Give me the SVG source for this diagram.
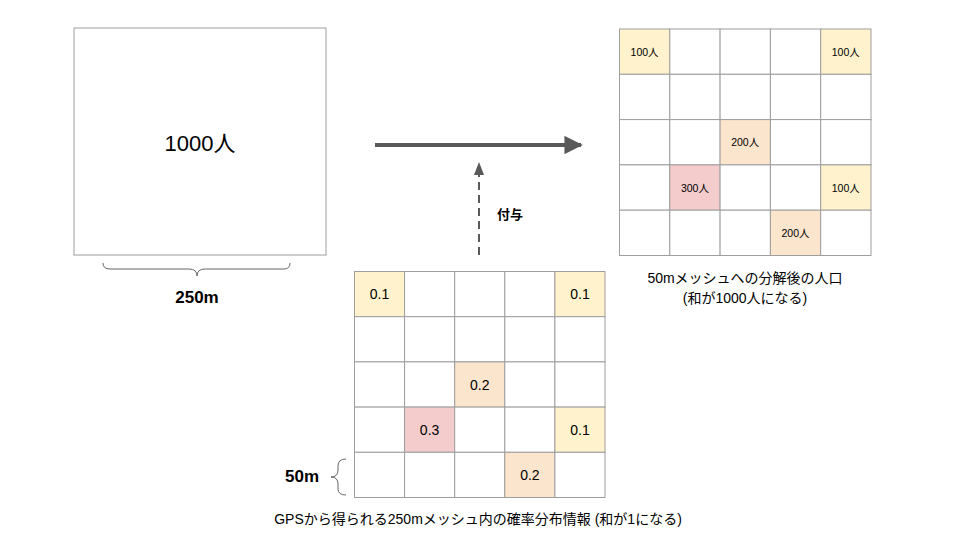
<svg xmlns="http://www.w3.org/2000/svg" width="960" height="540" viewBox="0 0 960 540">
<defs>
<style>
text{font-family:"Liberation Sans","Noto Sans CJK JP",sans-serif;fill:#000;}
.cell{stroke:#9e9e9e;stroke-width:1;fill:#ffffff;}
.y{fill:#fff2cc;}
.o{fill:#fce5cd;}
.r{fill:#f4cccc;}
.lbl{font-size:10.5px;text-anchor:middle;dominant-baseline:central;}
.lbl2{font-size:14px;text-anchor:middle;dominant-baseline:central;}
.brace{fill:none;stroke:#666;stroke-width:1;}
</style>
<marker id="ah" viewBox="0 0 10 10" refX="9" refY="5" markerWidth="6" markerHeight="4.6" markerUnits="strokeWidth" orient="auto">
<path d="M0,0 L10,5 L0,10 z" fill="#595959"/>
</marker>
</defs>
<rect width="960" height="540" fill="#ffffff"/>

<g id="big-mesh">
<rect x="74" y="28" width="252" height="227" fill="#ffffff" stroke="#9e9e9e" stroke-width="1"/>
<text x="200" y="143" font-size="22" text-anchor="middle" dominant-baseline="central">1000人</text>
</g>

<g id="brace-250">
<path class="brace" d="M103,263 Q103,269 110,269 L189,269 Q197,269 197,276 Q197,269 205,269 L284,269 Q290,269 290,263"/>
<text x="197" y="303" font-size="17" font-weight="bold" text-anchor="middle">250m</text>
</g>

<g id="connectors">
<line x1="375" y1="145" x2="581" y2="145" stroke="#595959" stroke-width="4" marker-end="url(#ah)"/>
<line x1="479" y1="255" x2="479" y2="174" stroke="#595959" stroke-width="2" stroke-dasharray="8,5"/>
<path d="M474,175 L479,162 L484,175 z" fill="#595959"/>
<text x="497" y="214" font-size="13" font-weight="bold" dominant-baseline="central">付与</text>
</g>

<g id="pop-grid">
<rect class="cell y" x="619.5" y="29" width="50.3" height="45.3"/>
<rect class="cell" x="669.8" y="29" width="50.3" height="45.3"/>
<rect class="cell" x="720.1" y="29" width="50.3" height="45.3"/>
<rect class="cell" x="770.4" y="29" width="50.3" height="45.3"/>
<rect class="cell y" x="820.7" y="29" width="50.3" height="45.3"/>
<rect class="cell" x="619.5" y="74.3" width="50.3" height="45.3"/>
<rect class="cell" x="669.8" y="74.3" width="50.3" height="45.3"/>
<rect class="cell" x="720.1" y="74.3" width="50.3" height="45.3"/>
<rect class="cell" x="770.4" y="74.3" width="50.3" height="45.3"/>
<rect class="cell" x="820.7" y="74.3" width="50.3" height="45.3"/>
<rect class="cell" x="619.5" y="119.6" width="50.3" height="45.3"/>
<rect class="cell" x="669.8" y="119.6" width="50.3" height="45.3"/>
<rect class="cell o" x="720.1" y="119.6" width="50.3" height="45.3"/>
<rect class="cell" x="770.4" y="119.6" width="50.3" height="45.3"/>
<rect class="cell" x="820.7" y="119.6" width="50.3" height="45.3"/>
<rect class="cell" x="619.5" y="164.9" width="50.3" height="45.3"/>
<rect class="cell r" x="669.8" y="164.9" width="50.3" height="45.3"/>
<rect class="cell" x="720.1" y="164.9" width="50.3" height="45.3"/>
<rect class="cell" x="770.4" y="164.9" width="50.3" height="45.3"/>
<rect class="cell y" x="820.7" y="164.9" width="50.3" height="45.3"/>
<rect class="cell" x="619.5" y="210.2" width="50.3" height="45.3"/>
<rect class="cell" x="669.8" y="210.2" width="50.3" height="45.3"/>
<rect class="cell" x="720.1" y="210.2" width="50.3" height="45.3"/>
<rect class="cell o" x="770.4" y="210.2" width="50.3" height="45.3"/>
<rect class="cell" x="820.7" y="210.2" width="50.3" height="45.3"/>
<text class="lbl" x="644.6" y="51.6">100人</text>
<text class="lbl" x="845.8" y="51.6">100人</text>
<text class="lbl" x="745.2" y="142.2">200人</text>
<text class="lbl" x="694.9" y="187.5">300人</text>
<text class="lbl" x="845.8" y="187.5">100人</text>
<text class="lbl" x="795.5" y="232.8">200人</text>
<text x="745" y="283" font-size="14" text-anchor="middle">50mメッシュへの分解後の人口</text>
<text x="745" y="303" font-size="14" text-anchor="middle">(和が1000人になる)</text>
</g>

<g id="prob-grid">
<rect class="cell y" x="354.5" y="271.5" width="50.1" height="45.2"/>
<rect class="cell" x="404.6" y="271.5" width="50.1" height="45.2"/>
<rect class="cell" x="454.7" y="271.5" width="50.1" height="45.2"/>
<rect class="cell" x="504.8" y="271.5" width="50.1" height="45.2"/>
<rect class="cell y" x="554.9" y="271.5" width="50.1" height="45.2"/>
<rect class="cell" x="354.5" y="316.7" width="50.1" height="45.2"/>
<rect class="cell" x="404.6" y="316.7" width="50.1" height="45.2"/>
<rect class="cell" x="454.7" y="316.7" width="50.1" height="45.2"/>
<rect class="cell" x="504.8" y="316.7" width="50.1" height="45.2"/>
<rect class="cell" x="554.9" y="316.7" width="50.1" height="45.2"/>
<rect class="cell" x="354.5" y="361.9" width="50.1" height="45.2"/>
<rect class="cell" x="404.6" y="361.9" width="50.1" height="45.2"/>
<rect class="cell o" x="454.7" y="361.9" width="50.1" height="45.2"/>
<rect class="cell" x="504.8" y="361.9" width="50.1" height="45.2"/>
<rect class="cell" x="554.9" y="361.9" width="50.1" height="45.2"/>
<rect class="cell" x="354.5" y="407.1" width="50.1" height="45.2"/>
<rect class="cell r" x="404.6" y="407.1" width="50.1" height="45.2"/>
<rect class="cell" x="454.7" y="407.1" width="50.1" height="45.2"/>
<rect class="cell" x="504.8" y="407.1" width="50.1" height="45.2"/>
<rect class="cell y" x="554.9" y="407.1" width="50.1" height="45.2"/>
<rect class="cell" x="354.5" y="452.3" width="50.1" height="45.2"/>
<rect class="cell" x="404.6" y="452.3" width="50.1" height="45.2"/>
<rect class="cell" x="454.7" y="452.3" width="50.1" height="45.2"/>
<rect class="cell o" x="504.8" y="452.3" width="50.1" height="45.2"/>
<rect class="cell" x="554.9" y="452.3" width="50.1" height="45.2"/>
<text class="lbl2" x="379.5" y="294.1">0.1</text>
<text class="lbl2" x="580" y="294.1">0.1</text>
<text class="lbl2" x="479.8" y="384.5">0.2</text>
<text class="lbl2" x="429.6" y="429.7">0.3</text>
<text class="lbl2" x="580" y="429.7">0.1</text>
<text class="lbl2" x="529.9" y="474.9">0.2</text>
<text x="478" y="524" font-size="14" text-anchor="middle">GPSから得られる250mメッシュ内の確率分布情報 (和が1になる)</text>
</g>

<g id="brace-50">
<path class="brace" d="M346,459 Q338,459 338,466 L338,470 Q338,477 331,477 Q338,477 338,484 L338,489 Q338,495 346,495"/>
<text x="302" y="482" font-size="17" font-weight="bold" text-anchor="middle">50m</text>
</g>
</svg>
